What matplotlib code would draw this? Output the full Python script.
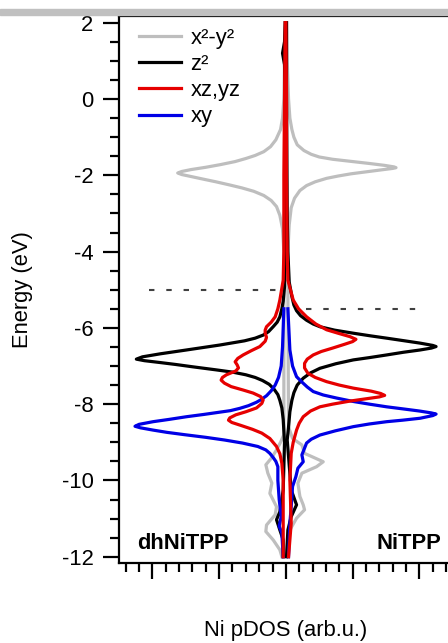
import numpy as np
from matplotlib import pyplot as plt
from matplotlib.patches import Rectangle
from matplotlib.ticker import MultipleLocator, NullFormatter

plt.rcParams['font.family'] = ['Liberation Sans', 'DejaVu Sans']
plt.rcParams['axes.unicode_minus'] = False

# Ni pDOS: energy (eV) and DOS (arb.u.)
# dhNiTPP is drawn to the left (negative), NiTPP to the right (positive)

# x2-y2
e_x2y2_dh = [2.0, 1.0, 0.0, -0.5, -0.8, -1.07, -1.25, -1.38, -1.48, -1.56, -1.64, -1.72,
             -1.79, -1.85, -1.9, -1.94, -1.98, -2.04, -2.1, -2.17, -2.25, -2.33, -2.42,
             -2.53, -2.66, -2.82, -3.05, -3.4, -4.0, -5.0, -8.8,
             -9.0, -9.2, -9.4, -9.59, -9.81, -10.07, -10.34, -10.69, -10.9, -11.17, -11.34,
             -11.56, -11.82, -12.0]
x2y2_dh = [0.01, 0.02, 0.03, 0.05, 0.08, 0.15, 0.23, 0.33, 0.46, 0.60, 0.76, 0.98,
           1.20, 1.42, 1.56, 1.62, 1.56, 1.40, 1.24, 1.05, 0.85, 0.66, 0.48,
           0.33, 0.22, 0.14, 0.09, 0.05, 0.03, 0.03, 0.03,
           0.08, 0.14, 0.21, 0.30, 0.27, 0.21, 0.24, 0.14, 0.16, 0.29, 0.30,
           0.19, 0.09, 0.06]
e_x2y2_ni = [2.0, 1.0, 0.0, -0.5, -0.8, -1.0, -1.2, -1.35, -1.45, -1.52, -1.58, -1.64,
             -1.69, -1.74, -1.78, -1.8, -1.82, -1.86, -1.91, -1.96, -2.02, -2.08, -2.17,
             -2.27, -2.4, -2.6, -2.85, -3.3, -4.0, -5.0,
             -8.6, -8.9, -9.07, -9.29, -9.51, -9.64, -9.81, -10.07, -10.42, -10.64, -10.77,
             -10.99, -11.3, -11.56, -12.0]
x2y2_ni = [0.01, 0.02, 0.04, 0.06, 0.09, 0.12, 0.17, 0.27, 0.38, 0.50, 0.70, 1.00,
           1.25, 1.48, 1.62, 1.65, 1.60, 1.42, 1.20, 0.98, 0.78, 0.61, 0.44,
           0.31, 0.21, 0.13, 0.08, 0.05, 0.03, 0.03,
           0.04, 0.10, 0.24, 0.28, 0.56, 0.46, 0.24, 0.18, 0.21, 0.26, 0.28,
           0.16, 0.06, 0.03, 0.01]

# z2
e_z2_dh = [2.0, 1.5, 1.2, 0.9, 0.0, -2.0, -3.0, -4.0, -4.92, -5.3, -5.5, -5.71, -5.85,
           -5.97, -6.1, -6.19, -6.27, -6.34, -6.45, -6.58, -6.68, -6.76, -6.82, -6.86,
           -6.91, -6.96, -7.02, -7.1, -7.16, -7.23, -7.3, -7.38, -7.48, -7.6, -7.75,
           -7.9, -8.1, -8.4, -9.0, -10.25, -10.82, -11.03, -11.3, -11.56, -12.0]
z2_dh = [0.01, 0.02, 0.05, 0.02, 0.01, 0.01, 0.02, 0.02, 0.02, 0.04, 0.06, 0.09, 0.13,
         0.19, 0.26, 0.34, 0.46, 0.62, 0.99, 1.49, 1.88, 2.15, 2.24, 2.12,
         1.88, 1.65, 1.40, 1.05, 0.80, 0.60, 0.46, 0.35, 0.25, 0.18, 0.12,
         0.09, 0.06, 0.04, 0.02, 0.04, 0.09, 0.14, 0.09, 0.04, 0.04]
e_z2_ni = [2.0, 0.0, -3.0, -4.0, -4.8, -5.18, -5.4, -5.55, -5.68, -5.8, -5.9, -5.97, -6.06,
           -6.14, -6.21, -6.27, -6.34, -6.4, -6.46, -6.49, -6.53, -6.58, -6.64, -6.71,
           -6.78, -6.84, -6.94, -7.06, -7.18, -7.32, -7.5, -7.7, -7.9, -8.2, -8.6,
           -8.94, -10.25, -10.64, -10.95, -11.3, -12.0]
z2_ni = [0.01, 0.01, 0.02, 0.03, 0.05, 0.09, 0.12, 0.16, 0.22, 0.31, 0.41, 0.51, 0.73,
         1.01, 1.27, 1.51, 1.78, 2.01, 2.20, 2.25, 2.18, 2.01, 1.76, 1.51,
         1.25, 1.01, 0.75, 0.51, 0.37, 0.26, 0.17, 0.12, 0.09, 0.06, 0.04,
         0.02, 0.08, 0.16, 0.08, 0.03, 0.01]

# xz,yz
e_xz_dh = [2.0, 0.0, -2.0, -4.0, -4.75, -5.27, -5.5, -5.71, -5.85, -5.97, -6.06, -6.14,
           -6.25, -6.35, -6.49, -6.6, -6.71, -6.8, -6.89, -6.97, -7.05, -7.13, -7.23,
           -7.3, -7.37, -7.45, -7.54, -7.63, -7.71, -7.8, -7.89, -7.98, -8.1, -8.2,
           -8.28, -8.36, -8.42, -8.48, -8.56, -8.66, -8.76, -8.9, -9.11, -9.3, -9.55,
           -10.0, -11.0, -12.0]
xz_dh = [0.01, 0.02, 0.03, 0.03, 0.04, 0.09, 0.12, 0.16, 0.22, 0.29, 0.31, 0.31,
         0.29, 0.31, 0.39, 0.52, 0.64, 0.72, 0.76, 0.73, 0.71, 0.75, 0.89,
         0.95, 0.97, 0.92, 0.82, 0.64, 0.49, 0.38, 0.34, 0.36, 0.44, 0.60,
         0.75, 0.84, 0.86, 0.81, 0.67, 0.50, 0.36, 0.24, 0.14, 0.09, 0.06,
         0.04, 0.04, 0.04]
e_xz_ni = [2.0, 0.0, -2.0, -4.0, -4.75, -5.27, -5.5, -5.71, -5.9, -6.05, -6.15, -6.23,
           -6.3, -6.36, -6.43, -6.53, -6.62, -6.71, -6.82, -6.93, -7.05, -7.19, -7.3,
           -7.41, -7.5, -7.58, -7.66, -7.72, -7.77, -7.81, -7.86, -7.92, -8.0, -8.07,
           -8.18, -8.33, -8.5, -8.68, -9.0, -9.29, -9.99, -11.12, -12.0]
xz_ni = [0.0, 0.01, 0.01, 0.02, 0.03, 0.11, 0.19, 0.31, 0.45, 0.61, 0.80, 0.96,
         1.05, 1.00, 0.88, 0.70, 0.53, 0.41, 0.32, 0.28, 0.28, 0.33, 0.44,
         0.61, 0.80, 1.01, 1.28, 1.42, 1.48, 1.40, 1.20, 0.96, 0.70, 0.51,
         0.37, 0.26, 0.20, 0.16, 0.11, 0.08, 0.06, 0.08, 0.04]

# xy
e_xy_dh = [-5.5, -6.5, -7.0, -7.3, -7.5, -7.65, -7.78, -7.88, -7.95, -8.04, -8.11, -8.17,
           -8.21, -8.27, -8.33, -8.4, -8.46, -8.53, -8.58, -8.62, -8.68, -8.74, -8.8,
           -8.87, -8.94, -9.02, -9.11, -9.2, -9.29, -9.4, -9.5, -9.64, -10.0, -10.5,
           -10.95, -11.2, -11.38, -12.0]
xy_dh = [0.03, 0.05, 0.07, 0.11, 0.16, 0.22, 0.29, 0.37, 0.44, 0.56, 0.69, 0.83,
         0.99, 1.23, 1.49, 1.75, 1.99, 2.20, 2.26, 2.18, 1.99, 1.78, 1.52,
         1.20, 0.92, 0.65, 0.42, 0.30, 0.24, 0.19, 0.15, 0.12, 0.12, 0.10,
         0.07, 0.10, 0.06, 0.04]
e_xy_ni = [-5.5, -6.58, -7.0, -7.28, -7.42, -7.55, -7.67, -7.76, -7.84, -7.93, -8.0, -8.07,
           -8.13, -8.18, -8.23, -8.26, -8.3, -8.37, -8.42, -8.46, -8.52, -8.59, -8.7,
           -8.81, -8.92, -9.02, -9.33, -9.51, -9.68, -9.9, -10.16, -10.69, -11.12, -12.0]
xy_ni = [0.03, 0.06, 0.10, 0.16, 0.24, 0.32, 0.41, 0.56, 0.76, 1.01, 1.25, 1.51,
         1.78, 2.00, 2.18, 2.25, 2.20, 2.01, 1.75, 1.51, 1.25, 1.01, 0.74,
         0.51, 0.38, 0.31, 0.24, 0.26, 0.18, 0.15, 0.10, 0.08, 0.06, 0.04]

# dashed levels (eV) for each molecule
level_dh = -5.0
level_ni = -5.5

labels = ['x²-y²', 'z²', 'xz,yz', 'xy']
colors = ['#bebebe', 'black', '#e60000', '#0000e6']
zorders = [2, 3, 5, 4]

fig = plt.figure(figsize=(4.48, 6.43), dpi=100)
ax = fig.add_axes([0.2656, 0.1244, 0.745, 0.8507])

curves = [(e_x2y2_dh, x2y2_dh, e_x2y2_ni, x2y2_ni),
          (e_z2_dh, z2_dh, e_z2_ni, z2_ni),
          (e_xz_dh, xz_dh, e_xz_ni, xz_ni),
          (e_xy_dh, xy_dh, e_xy_ni, xy_ni)]

for (e1, d1, e2, d2), lab, col, z in zip(curves, labels, colors, zorders):
    ax.plot(-np.array(d1), e1, color=col, lw=2.3, label=lab, solid_joinstyle='round', zorder=z)
    ax.plot(d2, e2, color=col, lw=2.3, solid_joinstyle='round', zorder=z)

ax.plot([-2.05, -0.14], [level_dh, level_dh], color='#404040', lw=1.5, dashes=(2.6, 5.7))
ax.plot([0.30, 1.98], [level_ni, level_ni], color='#404040', lw=1.5, dashes=(2.6, 5.7))

ax.set_xlim(-2.5, 2.5)
ax.set_ylim(-12.165, 2.176)

ax.yaxis.set_major_locator(MultipleLocator(2))
ax.yaxis.set_minor_locator(MultipleLocator(0.5))
ax.xaxis.set_major_locator(MultipleLocator(1))
ax.xaxis.set_minor_locator(MultipleLocator(0.2))
ax.xaxis.set_major_formatter(NullFormatter())

ax.tick_params(which='major', direction='out', length=11.3, width=1.6, labelsize=15.8, pad=7)
ax.tick_params(which='minor', direction='out', length=6.5, width=1.6)
ax.tick_params(top=False, right=False, which='both')
for s in ax.spines.values():
    s.set_linewidth(1.6)

ax.set_ylabel('Energy (eV)', fontsize=15.8)
ax.yaxis.set_label_coords(-0.257, 0.5)
ax.set_xlabel('Ni pDOS (arb.u.)', fontsize=15.8)
ax.xaxis.set_label_coords(0.5, -0.105)

ax.text(-2.23, -11.8, 'dhNiTPP', fontsize=15.8, fontweight='bold', ha='left', va='baseline')
ax.text(2.33, -11.8, 'NiTPP', fontsize=15.8, fontweight='bold', ha='right', va='baseline')

ax.legend(loc='upper left', bbox_to_anchor=(0.06, 0.978), frameon=False, fontsize=15.8,
          handlelength=1.9, handletextpad=0.45, labelspacing=0.23, borderpad=0,
          borderaxespad=0)

# grey strip above the frame
fig.patches.append(Rectangle((0, 1 - 14.5 / 643), 1, 5 / 643, transform=fig.transFigure,
                             color='#c0c0c0', zorder=0))

plt.savefig('out.png', dpi=100)
